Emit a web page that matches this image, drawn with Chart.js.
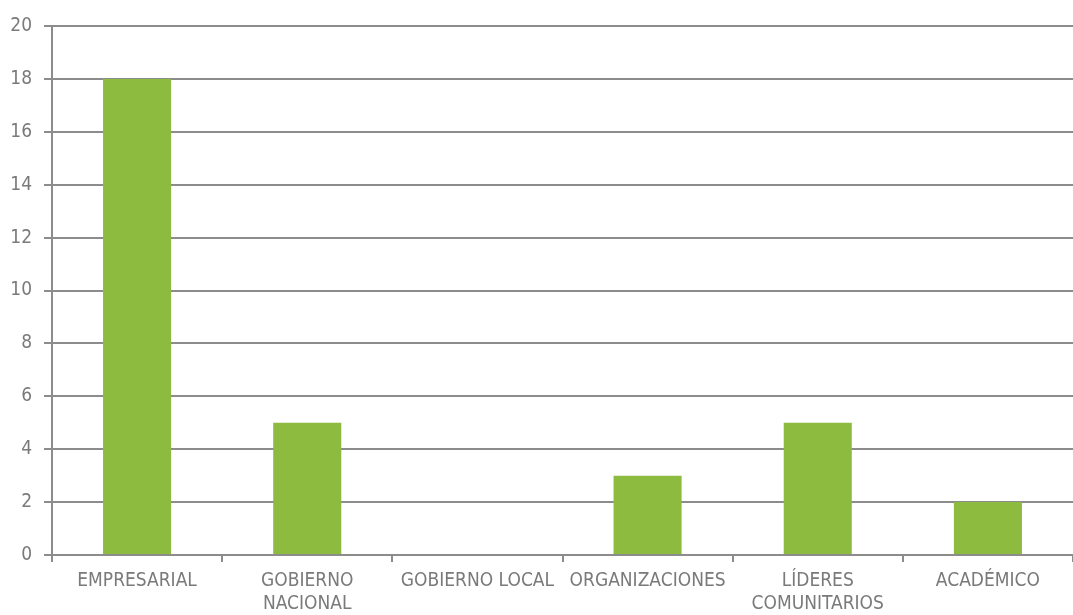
<!DOCTYPE html>
<html>
<head>
<meta charset="utf-8">
<script src="https://cdn.jsdelivr.net/npm/chart.js@4"></script>
<style>
html,body{margin:0;padding:0;background:#fff;}
#wrap{width:1073px;height:615px;}
</style>
</head>
<body>
<div id="wrap"><canvas id="chart"></canvas></div>
<script>
// data
const categories = [
  "EMPRESARIAL",
  ["GOBIERNO", "NACIONAL"],
  "GOBIERNO LOCAL",
  "ORGANIZACIONES",
  ["LÍDERES", "COMUNITARIOS"],
  "ACADÉMICO"
];
const values = [18, 5, 0, 3, 5, 2];
const yTicks = [0, 2, 4, 6, 8, 10, 12, 14, 16, 18, 20];

const gray = "#8c8c8c";
const textGray = "#7a7a7a";
const font = { family: "'DejaVu Sans Condensed', 'DejaVu Sans', sans-serif", size: 19, lineHeight: 1.2 };

new Chart(document.getElementById("chart"), {
  type: "bar",
  data: {
    labels: categories,
    datasets: [{
      data: values,
      backgroundColor: "#8dbb3f",
      borderWidth: 0,
      barPercentage: 0.5,
      categoryPercentage: 0.8
    }]
  },
  options: {
    responsive: true,
    maintainAspectRatio: false,
    animation: false,
    layout: { padding: { top: 26, right: 0, left: 0, bottom: 0 } },
    plugins: { legend: { display: false }, tooltip: { enabled: false } },
    scales: {
      x: {
        grid: { drawOnChartArea: false, color: gray, lineWidth: 2, tickLength: 7, offset: true },
        border: { display: true, color: gray, width: 2 },
        ticks: { color: textGray, font: font, maxRotation: 0, autoSkip: false, padding: 8 },
        afterFit: s => { s.height = 60; }
      },
      y: {
        min: 0, max: 20,
        afterBuildTicks: s => { s.ticks = yTicks.map(v => ({ value: v })); },
        grid: { color: gray, lineWidth: 2, tickLength: 8 },
        border: { display: true, color: gray, width: 2 },
        ticks: { color: textGray, font: font, padding: 12 },
        afterFit: s => { s.width = 52; }
      }
    }
  }
});
</script>
</body>
</html>
